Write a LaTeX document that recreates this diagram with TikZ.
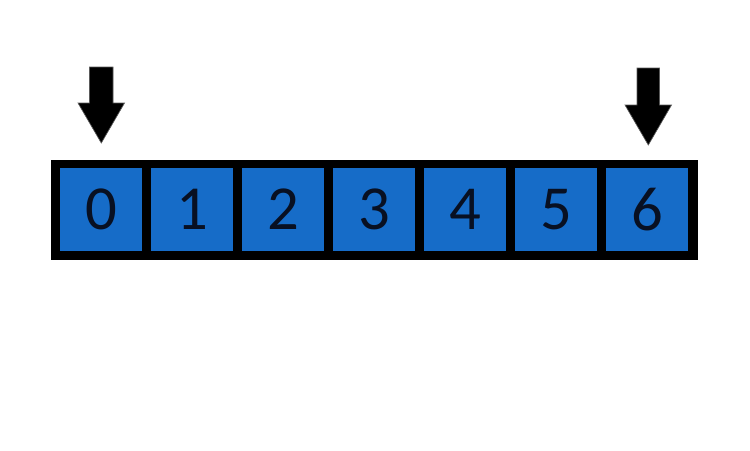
\documentclass[tikz,border=0pt]{standalone}
\usepackage{fontspec}
\setmainfont{Carlito}
\definecolor{cellblue}{RGB}{22,108,200}
\definecolor{digitink}{RGB}{8,16,34}
\tikzset{
  cell/.style={draw=none, fill=cellblue, minimum width=61.5pt, minimum height=62.25pt,
    inner sep=0pt, text=digitink, font=\fontsize{47}{56}\selectfont},
  blockarrow/.style={fill=black, draw={rgb,255:red,90;green,90;blue,90}, line width=0.5pt}
}
\begin{document}
\begin{tikzpicture}[x=0.75pt,y=0.75pt,yscale=-1,xscale=1]
\path[use as bounding box] (0,0) rectangle (750,450);

%Shape: Rectangle [id:bar]
\draw [fill=black] (51,160) rectangle (697,259) ;

% Cells
\node [cell] (c0) at (101,209.5) {0};
\node [cell] (c1) at (192,209.5) {1};
\node [cell] (c2) at (283,209.5) {2};
\node [cell] (c3) at (374,209.5) {3};
\node [cell] (c4) at (465,209.5) {4};
\node [cell] (c5) at (556,209.5) {5};
\node [cell] (c6) at (647,209.5) {6};

%Shape: Down Arrow [id:left]
\draw [blockarrow] (89.5,67) -- (113,67) -- (113,103) -- (124.5,103) -- (101.3,143) -- (78,103) -- (89.5,103) -- cycle ;
%Shape: Down Arrow [id:right]
\draw [blockarrow] (637,68) -- (659.5,68) -- (659.5,105) -- (671.5,105) -- (648.3,145) -- (625,105) -- (637,105) -- cycle ;

\end{tikzpicture}
\end{document}
